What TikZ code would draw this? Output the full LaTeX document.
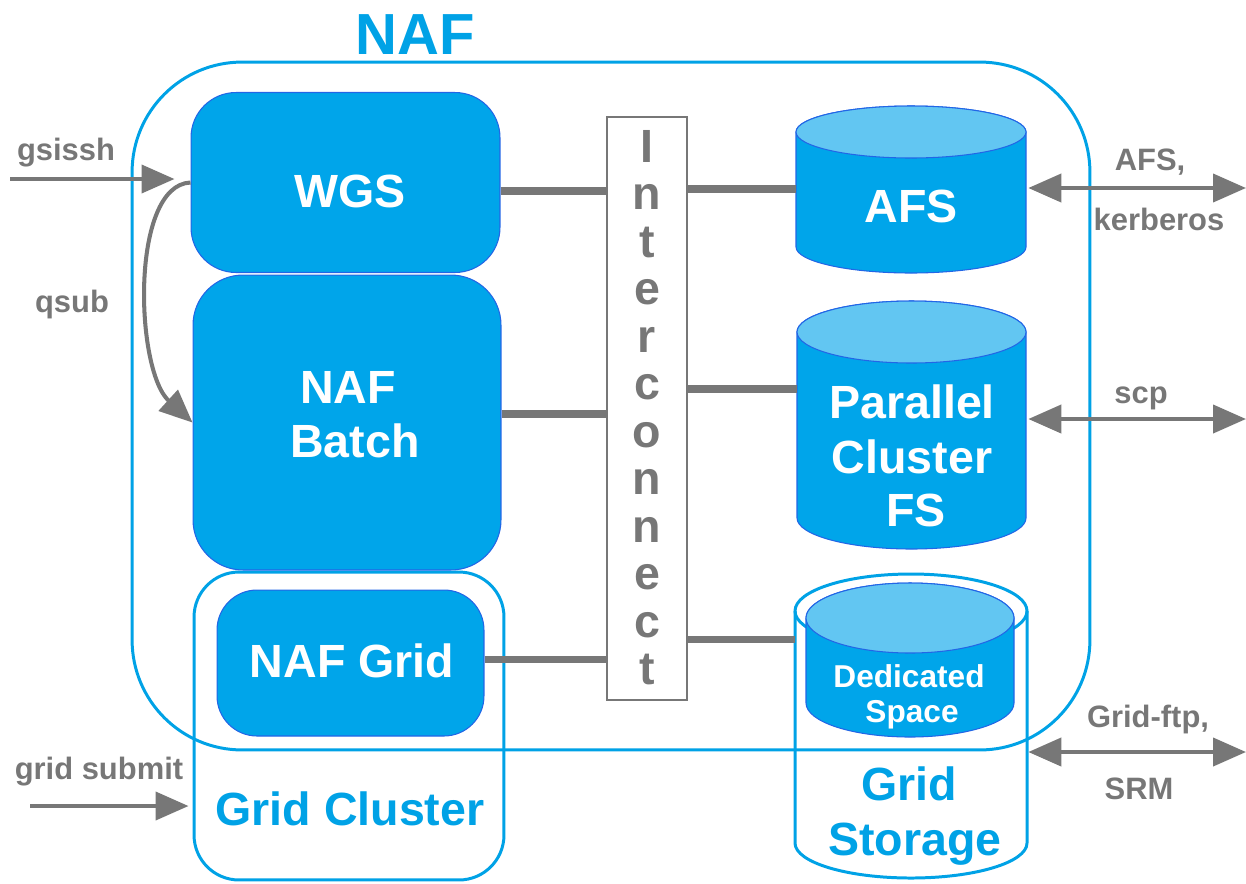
\documentclass[tikz,border=0pt]{standalone}
\usepackage{fontspec}
\setmainfont{Liberation Sans}
\usetikzlibrary{arrows.meta}
\definecolor{nafblue}{HTML}{00A5EA}
\definecolor{naflight}{HTML}{62C6F2}
\definecolor{nafedge}{HTML}{2266E6}
\definecolor{naftext}{HTML}{00A2E6}
\definecolor{nafgray}{HTML}{777777}
\begin{document}
\begin{tikzpicture}[x=0.02cm,y=-0.02cm,
  bluebox/.style={draw=nafedge, line width=0.6pt, fill=nafblue, inner sep=0pt},
  outlinebox/.style={draw=naftext, line width=1.7pt, inner sep=0pt},
  ghost/.style={inner sep=0pt},
  wtext/.style={text=white, font=\fontsize{26.5}{30}\selectfont\bfseries, anchor=base, inner sep=0pt},
  btext/.style={text=naftext, font=\fontsize{26.5}{30}\selectfont\bfseries, anchor=base, inner sep=0pt},
  stext/.style={text=white, font=\fontsize{18}{20}\selectfont\bfseries, anchor=base, inner sep=0pt},
  ltext/.style={text=nafgray, font=\fontsize{17.6}{20}\selectfont\bfseries, anchor=base, inner sep=0pt},
  ictext/.style={text=nafgray, font=\fontsize{26.5}{30}\selectfont\bfseries, anchor=base, inner sep=0pt},
  conn/.style={draw=nafgray, line width=4pt},
  garrow/.style={draw=nafgray, line width=2.3pt, -{Triangle[length=0.66cm,width=0.56cm]}},
  gdarrow/.style={draw=nafgray, line width=2.3pt, {Triangle[length=0.66cm,width=0.56cm]}-{Triangle[length=0.66cm,width=0.56cm]}}
]
\useasboundingbox (0,0) rectangle (1246,883);

% NAF outer frame and title
\node[outlinebox, rounded corners=2.2cm, minimum width=19.16cm, minimum height=13.76cm] (naf) at (611,406) {};
\node[btext, font=\fontsize{33}{36}\selectfont\bfseries] (naftitle) at (415,54) {NAF};

% Grid cluster outline
\node[outlinebox, rounded corners=0.9cm, minimum width=6.2cm, minimum height=6.16cm] (gc) at (349,726) {};

% Blue boxes
\node[bluebox, rounded corners=0.9cm, minimum width=6.18cm, minimum height=3.6cm] (wgs) at (345.5,182.5) {};
\node[bluebox, rounded corners=1.0cm, minimum width=6.16cm, minimum height=5.9cm] (batch) at (347,422.5) {};
\node[bluebox, rounded corners=0.8cm, minimum width=5.34cm, minimum height=2.92cm] (nafgrid) at (350.5,663) {};

% Interconnect
\node[draw=nafgray, line width=1.6pt, fill=white, minimum width=1.6cm, minimum height=11.66cm, inner sep=0pt] (ic) at (647,408.5) {};
\foreach \l [count=\i] in {I,n,t,e,r,c,o,n,n,e,c,t}
  \node[ictext] (ic\i) at (647,{352+(\i-5)*47.5}) {\l};

% AFS cylinder
\path[fill=nafblue, draw=nafedge, line width=0.6pt] (796,132) -- (796,247)
  arc[start angle=180, end angle=0, x radius=115, y radius=26] -- (1026,132)
  arc[start angle=0, end angle=-180, x radius=115, y radius=26] -- cycle;
\path[fill=naflight, draw=nafedge, line width=0.6pt] (911,132) ellipse[x radius=115, y radius=26];
\node[ghost, minimum width=4.6cm, minimum height=2.3cm] (afs) at (911,189) {};

% Parallel Cluster FS cylinder
\path[fill=nafblue, draw=nafedge, line width=0.6pt] (797,332) -- (797,518)
  arc[start angle=180, end angle=0, x radius=114.5, y radius=31] -- (1026,332)
  arc[start angle=0, end angle=-180, x radius=114.5, y radius=31] -- cycle;
\path[fill=naflight, draw=nafedge, line width=0.6pt] (911.5,332) ellipse[x radius=114.5, y radius=31];
\node[ghost, minimum width=4.58cm, minimum height=3.7cm] (pcfs) at (911.5,425) {};

% Grid Storage outer cylinder
\draw[naftext, line width=1.7pt] (795,611) -- (795,843)
  arc[start angle=180, end angle=0, x radius=116, y radius=35] -- (1027,611);
\draw[naftext, line width=1.7pt] (911,611) ellipse[x radius=116, y radius=37];
\node[ghost, minimum width=4.64cm, minimum height=4.6cm] (gs) at (911,727) {};

% Dedicated Space cylinder
\path[fill=nafblue, draw=nafedge, line width=0.6pt] (806,618) -- (806,703)
  arc[start angle=180, end angle=0, x radius=104, y radius=34] -- (1014,618)
  arc[start angle=0, end angle=-180, x radius=104, y radius=35] -- cycle;
\path[fill=naflight, draw=nafedge, line width=0.6pt] (910,618) ellipse[x radius=104, y radius=35];

% helper levels
\coordinate (yA) at (0,191);
\coordinate (yB) at (0,189);
\coordinate (yC) at (0,414);
\coordinate (yD) at (0,389);
\coordinate (yE) at (0,659);
\coordinate (yF) at (0,639);

% connectors to interconnect
\draw[conn] (wgs.east |- yA) -- (ic.west |- yA);
\draw[conn] (ic.east |- yB) -- (afs.west |- yB);
\draw[conn] (batch.east |- yC) -- (ic.west |- yC);
\draw[conn] (ic.east |- yD) -- (pcfs.west |- yD);
\draw[conn] (nafgrid.east |- yE) -- (ic.west |- yE);
\draw[conn] (ic.east |- yF) -- (gs.west |- yF);

% external arrows
\coordinate (gsisshStart) at (10,179);
\draw[garrow, shorten >=0.32cm] (gsisshStart) -- (wgs.west |- gsisshStart);
\draw[garrow] (wgs.west) .. controls (130,185) and (135,370) .. (batch.west);
\coordinate (gsubStart) at (30,806);
\draw[garrow, shorten >=0.08cm] (gsubStart) -- (gc.west |- gsubStart);
\coordinate (afsR) at (1246,188);
\draw[gdarrow, shorten <=0.04cm] (afs.east |- afsR) -- (afsR);
\coordinate (scpR) at (1246,419);
\draw[gdarrow, shorten <=0.04cm] (pcfs.east |- scpR) -- (scpR);
\coordinate (ftpR) at (1246,752);
\draw[gdarrow, shorten <=0.02cm] (gs.east |- ftpR) -- (ftpR);

% white texts
\node[wtext] (wgst) at (350,207) {WGS};
\node[wtext] (batcht1) at (348,403) {NAF};
\node[wtext] (batcht2) at (355,457) {Batch};
\node[wtext] (nafgridt) at (352,677) {NAF Grid};
\node[wtext] (afst) at (911,222) {AFS};
\node[wtext] (pcfst1) at (912,418) {Parallel};
\node[wtext] (pcfst2) at (912,473) {Cluster};
\node[wtext] (pcfst3) at (916,526) {FS};
\node[stext] (dst1) at (909,687) {Dedicated};
\node[stext] (dst2) at (912,722) {Space};

% blue texts
\node[btext] (gct) at (350,825) {Grid Cluster};
\node[btext] (gst1) at (909,800) {Grid};
\node[btext] (gst2) at (915,855) {Storage};

% gray labels
\node[ltext] (lgsissh) at (66,160) {gsissh};
\node[ltext] (lqsub) at (72,312) {qsub};
\node[ltext] (lgsub) at (99,779) {grid submit};
\node[ltext] (lafs) at (1150,170) {AFS,};
\node[ltext] (lkerb) at (1159,230) {kerberos};
\node[ltext] (lscp) at (1141,403) {scp};
\node[ltext] (lftp) at (1148,727) {Grid-ftp,};
\node[ltext] (lsrm) at (1139,799) {SRM};
\end{tikzpicture}
\end{document}
